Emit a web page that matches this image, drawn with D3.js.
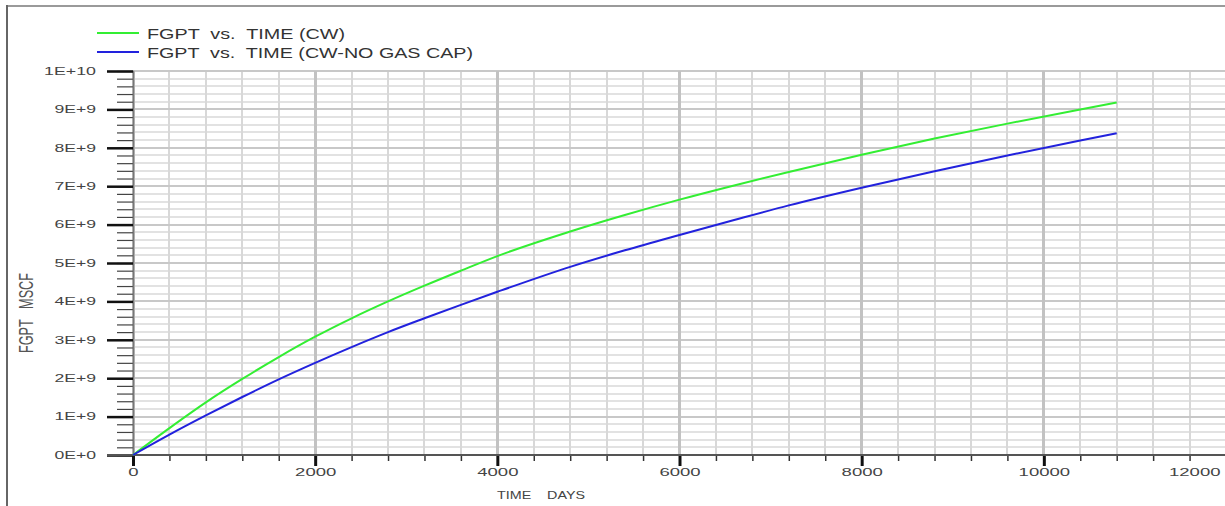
<!doctype html>
<html lang="en">
<head>
<meta charset="UTF-8">
<script src="https://d3js.org/d3.v7.min.js"></script>
<style>
body {
  margin: 0;
  background: #fff;
  font-family: "Liberation Sans", Arial, sans-serif;
}
.grid line { shape-rendering: crispEdges; }
.axis text { fill: #444; font-size: 10px; }
.legend text { fill: #333; font-size: 14px; white-space: pre; }
</style>
<title>FGPT vs TIME</title>
</head>
<body>
<div id="chart"></div>
<script>
'use strict';

// time in days
var days   = [0, 400, 800, 1200, 1600, 2000, 2400, 2800, 3200, 3600, 4000,
              4800, 5400, 6000, 6600, 7200, 8000, 8800, 9600, 10400, 10800];
// field gas production total, in 1E+9 MSCF
var fgptCW = [0, 0.70, 1.37, 1.98, 2.55, 3.08, 3.56, 4.00, 4.41, 4.80, 5.18,
              5.82, 6.25, 6.65, 7.02, 7.37, 7.82, 8.24, 8.63, 9.00, 9.18];
var fgptNoCap = [0, 0.53, 1.03, 1.51, 1.97, 2.40, 2.81, 3.20, 3.56, 3.91, 4.25,
                 4.90, 5.33, 5.73, 6.12, 6.50, 6.96, 7.39, 7.80, 8.19, 8.38];

var seriesNames = ["FGPT  vs.  TIME (CW)", "FGPT  vs.  TIME (CW-NO GAS CAP)"];
var seriesColors = ["#33ee33", "#2222dd"];

var xMajor = d3.range(0, 12001, 2000);
var xMinor = d3.range(0, 12001, 400);
var yMajor = d3.range(0, 1e10 + 1, 1e9);
var yMinor = d3.range(0, 1e10 + 1, 2e8);

var W = 1225, H = 506;

var x = d3.scaleLinear().domain([0, 12000]).range([133, 1226]);
var y = d3.scaleLinear().domain([0, 1e10]).range([455, 71]);

function sci(v) {
  if (v === 0) return "0E+0";
  var e = Math.floor(Math.log10(v) + 1e-9);
  return Math.round(v / Math.pow(10, e)) + "E+" + e;
}

var svg = d3.select("#chart").append("svg")
  .attr("width", W)
  .attr("height", H);

// outer frame
svg.append("line")
  .attr("x1", 7).attr("x2", W).attr("y1", 6).attr("y2", 6)
  .attr("stroke", "#9a9a9a").attr("stroke-width", 2);
svg.append("line")
  .attr("x1", 7).attr("x2", 7).attr("y1", 5).attr("y2", H)
  .attr("stroke", "#666").attr("stroke-width", 2);

// grid
var grid = svg.append("g").attr("class", "grid");
grid.selectAll(".hmin")
  .data(yMinor).enter().append("line")
  .attr("x1", 133).attr("x2", W)
  .attr("y1", d => y(d)).attr("y2", d => y(d))
  .attr("stroke", "#e2e2e2").attr("stroke-width", 2);
grid.selectAll(".vmin")
  .data(xMinor).enter().append("line")
  .attr("x1", d => x(d)).attr("x2", d => x(d))
  .attr("y1", 71).attr("y2", 455)
  .attr("stroke", "#d8d8d8").attr("stroke-width", 2);
grid.selectAll(".hmaj")
  .data(yMajor).enter().append("line")
  .attr("x1", 133).attr("x2", W)
  .attr("y1", d => y(d)).attr("y2", d => y(d))
  .attr("stroke", "#c8c8c8").attr("stroke-width", 2);
grid.selectAll(".vmaj")
  .data(xMajor).enter().append("line")
  .attr("x1", d => x(d)).attr("x2", d => x(d))
  .attr("y1", 71).attr("y2", 455)
  .attr("stroke", "#c2c2c2").attr("stroke-width", 3);

// y axis
var yMinAxis = svg.append("g")
  .attr("transform", "translate(133,0)")
  .call(d3.axisLeft(y).tickValues(yMinor).tickSize(16).tickFormat(""));
yMinAxis.select(".domain").remove();
yMinAxis.selectAll("line").attr("stroke", "#444").attr("stroke-width", 1.2);

var yAxis = svg.append("g")
  .attr("class", "axis")
  .attr("transform", "translate(133,0)")
  .call(d3.axisLeft(y).tickValues(yMajor).tickSize(26).tickPadding(11).tickFormat(sci));
yAxis.select(".domain").attr("stroke", "#777").attr("stroke-width", 1.5);
yAxis.selectAll("line").attr("stroke", "#111").attr("stroke-width", 2.5);
yAxis.selectAll("text")
  .attr("font-family", "Liberation Sans, Arial, sans-serif")
  .attr("textLength", function() { return this.textContent.length * 10.4; })
  .attr("lengthAdjust", "spacingAndGlyphs");

// x axis
var xMinAxis = svg.append("g")
  .attr("transform", "translate(0,455)")
  .call(d3.axisBottom(x).tickValues(xMinor).tickSize(6).tickFormat(""));
xMinAxis.select(".domain").remove();
xMinAxis.selectAll("line").attr("stroke", "#333").attr("stroke-width", 1.5);

var xAxis = svg.append("g")
  .attr("class", "axis")
  .attr("transform", "translate(0,455)")
  .call(d3.axisBottom(x).tickValues(xMajor).tickSize(11).tickPadding(3).tickFormat(d3.format("d")));
xAxis.select(".domain").remove();
xAxis.selectAll("line").attr("stroke", "#111").attr("stroke-width", 3);
xAxis.selectAll("text")
  .attr("font-family", "Liberation Sans, Arial, sans-serif")
  .attr("textLength", function() { return this.textContent.length * 10.3; })
  .attr("lengthAdjust", "spacingAndGlyphs");
// last label is pushed inside the picture
xAxis.selectAll(".tick").filter(d => d === 12000).select("text")
  .attr("text-anchor", "end").attr("x", -6);

// x axis line runs left to the end of the y ticks
svg.append("line")
  .attr("x1", 107).attr("x2", W).attr("y1", 455).attr("y2", 455)
  .attr("stroke", "#555").attr("stroke-width", 2);

// axis titles
svg.append("text")
  .attr("x", 541).attr("y", 499)
  .attr("text-anchor", "middle")
  .attr("font-size", 11)
  .attr("fill", "#444")
  .attr("textLength", 88)
  .attr("lengthAdjust", "spacingAndGlyphs")
  .style("white-space", "pre")
  .text("TIME    DAYS");

svg.append("text")
  .attr("transform", "translate(33,313) rotate(-90)")
  .attr("text-anchor", "middle")
  .attr("font-size", 20)
  .attr("fill", "#555")
  .attr("textLength", 80)
  .attr("lengthAdjust", "spacingAndGlyphs")
  .style("white-space", "pre")
  .text("FGPT   MSCF");

// curves
var line = d3.line()
  .x(d => x(d[0]))
  .y(d => y(d[1] * 1e9))
  .curve(d3.curveMonotoneX);

[fgptCW, fgptNoCap].forEach(function(vals, i) {
  svg.append("path")
    .datum(days.map((t, k) => [t, vals[k]]))
    .attr("fill", "none")
    .attr("stroke", seriesColors[i])
    .attr("stroke-width", 2)
    .attr("d", line);
});

// legend
var legendWidths = [198, 326];
var legend = svg.append("g").attr("class", "legend");
seriesNames.forEach(function(name, i) {
  var ly = 33 + i * 19;
  legend.append("line")
    .attr("x1", 97).attr("x2", 139)
    .attr("y1", ly).attr("y2", ly)
    .attr("stroke", seriesColors[i])
    .attr("stroke-width", 2);
  legend.append("text")
    .attr("x", 147).attr("y", ly + 6)
    .attr("textLength", legendWidths[i])
    .attr("lengthAdjust", "spacingAndGlyphs")
    .text(name);
});
</script>
</body>
</html>
